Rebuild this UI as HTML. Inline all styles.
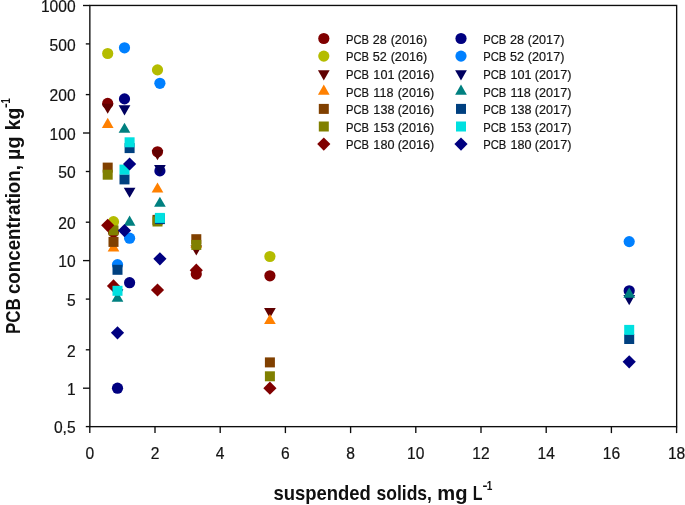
<!DOCTYPE html>
<html><head><meta charset="utf-8"><title>PCB concentration vs suspended solids</title>
<style>
html,body{margin:0;padding:0;background:#fff;}
svg{display:block;font-family:"Liberation Sans",sans-serif;}
.tk{font-size:15.6px;fill:#141414;stroke:#141414;stroke-width:0.2px;}
.lg{fill:#141414;stroke:#141414;stroke-width:0.2px;}
.ti{font-weight:bold;fill:#101010;}
</style></head><body>
<svg width="685" height="505" viewBox="0 0 685 505">
<rect width="685" height="505" fill="#fff"/>
<g stroke="#0d0d0d" stroke-width="1.35" fill="none">
<rect x="89.85" y="5.45" width="586.8" height="421.2"/>
<line x1="83.0" y1="5.5" x2="89.85" y2="5.5"/>
<line x1="85.8" y1="43.9" x2="89.85" y2="43.9"/>
<line x1="85.8" y1="94.6" x2="89.85" y2="94.6"/>
<line x1="83.0" y1="133.0" x2="89.85" y2="133.0"/>
<line x1="85.8" y1="171.5" x2="89.85" y2="171.5"/>
<line x1="85.8" y1="222.2" x2="89.85" y2="222.2"/>
<line x1="83.0" y1="260.6" x2="89.85" y2="260.6"/>
<line x1="85.8" y1="299.1" x2="89.85" y2="299.1"/>
<line x1="85.8" y1="349.8" x2="89.85" y2="349.8"/>
<line x1="83.0" y1="388.2" x2="89.85" y2="388.2"/>
<line x1="85.8" y1="426.6" x2="89.85" y2="426.6"/>
<line x1="89.8" y1="426.65" x2="89.8" y2="433.1"/>
<line x1="155.0" y1="426.65" x2="155.0" y2="433.1"/>
<line x1="220.2" y1="426.65" x2="220.2" y2="433.1"/>
<line x1="285.4" y1="426.65" x2="285.4" y2="433.1"/>
<line x1="350.6" y1="426.65" x2="350.6" y2="433.1"/>
<line x1="415.8" y1="426.65" x2="415.8" y2="433.1"/>
<line x1="481.0" y1="426.65" x2="481.0" y2="433.1"/>
<line x1="546.2" y1="426.65" x2="546.2" y2="433.1"/>
<line x1="611.4" y1="426.65" x2="611.4" y2="433.1"/>
<line x1="676.6" y1="426.65" x2="676.6" y2="433.1"/>
</g>
<text class="tk" x="75.6" y="12.2" text-anchor="end">1000</text>
<text class="tk" x="75.6" y="50.6" text-anchor="end">500</text>
<text class="tk" x="75.6" y="101.3" text-anchor="end">200</text>
<text class="tk" x="75.6" y="139.7" text-anchor="end">100</text>
<text class="tk" x="75.6" y="178.2" text-anchor="end">50</text>
<text class="tk" x="75.6" y="228.9" text-anchor="end">20</text>
<text class="tk" x="75.6" y="267.3" text-anchor="end">10</text>
<text class="tk" x="75.6" y="305.8" text-anchor="end">5</text>
<text class="tk" x="75.6" y="356.5" text-anchor="end">2</text>
<text class="tk" x="75.6" y="394.9" text-anchor="end">1</text>
<text class="tk" x="75.6" y="433.3" text-anchor="end">0,5</text>
<text class="tk" x="89.8" y="458.6" text-anchor="middle">0</text>
<text class="tk" x="155.0" y="458.6" text-anchor="middle">2</text>
<text class="tk" x="220.2" y="458.6" text-anchor="middle">4</text>
<text class="tk" x="285.4" y="458.6" text-anchor="middle">6</text>
<text class="tk" x="350.6" y="458.6" text-anchor="middle">8</text>
<text class="tk" x="415.8" y="458.6" text-anchor="middle">10</text>
<text class="tk" x="481.0" y="458.6" text-anchor="middle">12</text>
<text class="tk" x="546.2" y="458.6" text-anchor="middle">14</text>
<text class="tk" x="611.4" y="458.6" text-anchor="middle">16</text>
<text class="tk" x="676.6" y="458.6" text-anchor="middle">18</text>
<g>
<circle cx="107.7" cy="103.4" r="5.6" fill="#800000"/>
<circle cx="113.5" cy="232.0" r="5.6" fill="#800000"/>
<circle cx="157.5" cy="151.8" r="5.6" fill="#800000"/>
<circle cx="196.3" cy="274.1" r="5.6" fill="#800000"/>
<circle cx="269.9" cy="275.8" r="5.6" fill="#800000"/>
</g>
<g>
<circle cx="107.7" cy="53.5" r="5.6" fill="#b4bc00"/>
<circle cx="113.5" cy="221.7" r="5.6" fill="#b4bc00"/>
<circle cx="157.5" cy="69.9" r="5.6" fill="#b4bc00"/>
<circle cx="269.9" cy="256.5" r="5.6" fill="#b4bc00"/>
</g>
<g>
<polygon points="101.85,103.72 113.55,103.72 107.70,113.85" fill="#600000"/>
<polygon points="151.65,150.02 163.35,150.02 157.50,160.15" fill="#600000"/>
<polygon points="190.45,245.42 202.15,245.42 196.30,255.55" fill="#600000"/>
<polygon points="264.05,308.02 275.75,308.02 269.90,318.15" fill="#600000"/>
</g>
<g>
<polygon points="101.85,127.88 113.55,127.88 107.70,117.75" fill="#ff8000"/>
<polygon points="107.65,251.48 119.35,251.48 113.50,241.35" fill="#ff8000"/>
<polygon points="151.65,192.58 163.35,192.58 157.50,182.45" fill="#ff8000"/>
<polygon points="190.45,247.78 202.15,247.78 196.30,237.65" fill="#ff8000"/>
<polygon points="264.05,324.08 275.75,324.08 269.90,313.95" fill="#ff8000"/>
</g>
<g>
<rect x="102.7" y="162.6" width="10.0" height="10.0" fill="#804000"/>
<rect x="108.5" y="236.9" width="10.0" height="10.0" fill="#804000"/>
<rect x="152.5" y="214.9" width="10.0" height="10.0" fill="#804000"/>
<rect x="191.3" y="234.2" width="10.0" height="10.0" fill="#804000"/>
<rect x="264.9" y="357.4" width="10.0" height="10.0" fill="#804000"/>
</g>
<g>
<rect x="102.7" y="169.7" width="10.0" height="10.0" fill="#808000"/>
<rect x="108.5" y="225.4" width="10.0" height="10.0" fill="#808000"/>
<rect x="152.5" y="216.5" width="10.0" height="10.0" fill="#808000"/>
<rect x="191.3" y="239.9" width="10.0" height="10.0" fill="#808000"/>
<rect x="264.9" y="371.3" width="10.0" height="10.0" fill="#808000"/>
</g>
<g>
<polygon points="101.10,225.30 107.70,218.70 114.30,225.30 107.70,231.90" fill="#800000"/>
<polygon points="106.90,285.90 113.50,279.30 120.10,285.90 113.50,292.50" fill="#800000"/>
<polygon points="150.90,290.00 157.50,283.40 164.10,290.00 157.50,296.60" fill="#800000"/>
<polygon points="189.70,270.20 196.30,263.60 202.90,270.20 196.30,276.80" fill="#800000"/>
<polygon points="263.30,388.20 269.90,381.60 276.50,388.20 269.90,394.80" fill="#800000"/>
</g>
<g>
<circle cx="117.5" cy="388.2" r="5.6" fill="#000080"/>
<circle cx="124.5" cy="98.9" r="5.6" fill="#000080"/>
<circle cx="129.6" cy="282.7" r="5.6" fill="#000080"/>
<circle cx="159.9" cy="170.9" r="5.6" fill="#000080"/>
<circle cx="629.2" cy="290.8" r="5.6" fill="#000080"/>
</g>
<g>
<circle cx="117.5" cy="264.6" r="5.6" fill="#0080ff"/>
<circle cx="124.5" cy="47.8" r="5.6" fill="#0080ff"/>
<circle cx="129.6" cy="238.2" r="5.6" fill="#0080ff"/>
<circle cx="159.9" cy="83.3" r="5.6" fill="#0080ff"/>
<circle cx="629.2" cy="241.6" r="5.6" fill="#0080ff"/>
</g>
<g>
<polygon points="111.65,289.32 123.35,289.32 117.50,299.45" fill="#000060"/>
<polygon points="118.65,105.32 130.35,105.32 124.50,115.45" fill="#000060"/>
<polygon points="123.75,187.72 135.45,187.72 129.60,197.85" fill="#000060"/>
<polygon points="154.05,165.12 165.75,165.12 159.90,175.25" fill="#000060"/>
<polygon points="623.35,295.12 635.05,295.12 629.20,305.25" fill="#000060"/>
</g>
<g>
<polygon points="111.65,301.68 123.35,301.68 117.50,291.55" fill="#008080"/>
<polygon points="118.65,132.78 130.35,132.78 124.50,122.65" fill="#008080"/>
<polygon points="123.75,225.68 135.45,225.68 129.60,215.55" fill="#008080"/>
<polygon points="154.05,206.78 165.75,206.78 159.90,196.65" fill="#008080"/>
<polygon points="623.35,297.68 635.05,297.68 629.20,287.55" fill="#008080"/>
</g>
<g>
<rect x="112.5" y="264.8" width="10.0" height="10.0" fill="#004080"/>
<rect x="119.5" y="174.4" width="10.0" height="10.0" fill="#004080"/>
<rect x="124.6" y="143.1" width="10.0" height="10.0" fill="#004080"/>
<rect x="154.9" y="214.1" width="10.0" height="10.0" fill="#004080"/>
<rect x="624.2" y="334.0" width="10.0" height="10.0" fill="#004080"/>
</g>
<g>
<rect x="112.5" y="285.8" width="10.0" height="10.0" fill="#00e0e0"/>
<rect x="119.5" y="164.6" width="10.0" height="10.0" fill="#00e0e0"/>
<rect x="124.6" y="137.3" width="10.0" height="10.0" fill="#00e0e0"/>
<rect x="154.9" y="212.9" width="10.0" height="10.0" fill="#00e0e0"/>
<rect x="624.2" y="324.9" width="10.0" height="10.0" fill="#00e0e0"/>
</g>
<g>
<polygon points="110.90,332.80 117.50,326.20 124.10,332.80 117.50,339.40" fill="#000080"/>
<polygon points="117.90,230.60 124.50,224.00 131.10,230.60 124.50,237.20" fill="#000080"/>
<polygon points="123.00,164.00 129.60,157.40 136.20,164.00 129.60,170.60" fill="#000080"/>
<polygon points="153.30,258.80 159.90,252.20 166.50,258.80 159.90,265.40" fill="#000080"/>
<polygon points="622.60,361.80 629.20,355.20 635.80,361.80 629.20,368.40" fill="#000080"/>
</g>
<circle cx="323.8" cy="38.5" r="5.6" fill="#800000"/>
<text class="lg" font-size="13.4" transform="translate(346.90,43.70) scale(0.8374,1)" x="-1.07" y="0">PCB</text>
<text class="lg" font-size="13.4" transform="translate(391.40,43.70) scale(0.9429,1)" x="-0.80" y="0">(2016)</text>
<text class="lg" font-size="13.4" transform="translate(373.30,43.70) scale(0.9429,1)" x="-0.67" y="0">28</text>
<circle cx="323.8" cy="56.1" r="5.6" fill="#b4bc00"/>
<text class="lg" font-size="13.4" transform="translate(346.90,61.30) scale(0.8374,1)" x="-1.07" y="0">PCB</text>
<text class="lg" font-size="13.4" transform="translate(391.40,61.30) scale(0.9429,1)" x="-0.80" y="0">(2016)</text>
<text class="lg" font-size="13.4" transform="translate(373.30,61.30) scale(0.9429,1)" x="-0.54" y="0">52</text>
<polygon points="317.95,70.32 329.65,70.32 323.80,80.45" fill="#600000"/>
<text class="lg" font-size="13.4" transform="translate(346.90,78.90) scale(0.8374,1)" x="-1.07" y="0">PCB</text>
<text class="lg" font-size="13.4" transform="translate(398.40,78.90) scale(0.9429,1)" x="-0.80" y="0">(2016)</text>
<text class="lg" font-size="13.4" transform="translate(374.30,78.90) scale(0.9429,1)" x="-1.00" y="0">101</text>
<polygon points="317.95,94.68 329.65,94.68 323.80,84.55" fill="#ff8000"/>
<text class="lg" font-size="13.4" transform="translate(346.90,96.50) scale(0.8374,1)" x="-1.07" y="0">PCB</text>
<text class="lg" font-size="13.4" transform="translate(398.40,96.50) scale(0.9429,1)" x="-0.80" y="0">(2016)</text>
<text class="lg" font-size="13.4" transform="translate(374.30,96.50) scale(0.9429,1)" x="-1.00" y="0">118</text>
<rect x="318.8" y="103.9" width="10.0" height="10.0" fill="#804000"/>
<text class="lg" font-size="13.4" transform="translate(346.90,114.10) scale(0.8374,1)" x="-1.07" y="0">PCB</text>
<text class="lg" font-size="13.4" transform="translate(398.40,114.10) scale(0.9429,1)" x="-0.80" y="0">(2016)</text>
<text class="lg" font-size="13.4" transform="translate(374.30,114.10) scale(0.9429,1)" x="-1.00" y="0">138</text>
<rect x="318.8" y="121.5" width="10.0" height="10.0" fill="#808000"/>
<text class="lg" font-size="13.4" transform="translate(346.90,131.70) scale(0.8374,1)" x="-1.07" y="0">PCB</text>
<text class="lg" font-size="13.4" transform="translate(398.40,131.70) scale(0.9429,1)" x="-0.80" y="0">(2016)</text>
<text class="lg" font-size="13.4" transform="translate(374.30,131.70) scale(0.9429,1)" x="-1.00" y="0">153</text>
<polygon points="317.20,144.10 323.80,137.50 330.40,144.10 323.80,150.70" fill="#800000"/>
<text class="lg" font-size="13.4" transform="translate(346.90,149.30) scale(0.8374,1)" x="-1.07" y="0">PCB</text>
<text class="lg" font-size="13.4" transform="translate(398.40,149.30) scale(0.9429,1)" x="-0.80" y="0">(2016)</text>
<text class="lg" font-size="13.4" transform="translate(374.30,149.30) scale(0.9429,1)" x="-1.00" y="0">180</text>
<circle cx="461.0" cy="38.5" r="5.6" fill="#000080"/>
<text class="lg" font-size="13.4" transform="translate(484.10,43.70) scale(0.8374,1)" x="-1.07" y="0">PCB</text>
<text class="lg" font-size="13.4" transform="translate(528.60,43.70) scale(0.9429,1)" x="-0.80" y="0">(2017)</text>
<text class="lg" font-size="13.4" transform="translate(510.50,43.70) scale(0.9429,1)" x="-0.67" y="0">28</text>
<circle cx="461.0" cy="56.1" r="5.6" fill="#0080ff"/>
<text class="lg" font-size="13.4" transform="translate(484.10,61.30) scale(0.8374,1)" x="-1.07" y="0">PCB</text>
<text class="lg" font-size="13.4" transform="translate(528.60,61.30) scale(0.9429,1)" x="-0.80" y="0">(2017)</text>
<text class="lg" font-size="13.4" transform="translate(510.50,61.30) scale(0.9429,1)" x="-0.54" y="0">52</text>
<polygon points="455.15,70.32 466.85,70.32 461.00,80.45" fill="#000060"/>
<text class="lg" font-size="13.4" transform="translate(484.10,78.90) scale(0.8374,1)" x="-1.07" y="0">PCB</text>
<text class="lg" font-size="13.4" transform="translate(535.60,78.90) scale(0.9429,1)" x="-0.80" y="0">(2017)</text>
<text class="lg" font-size="13.4" transform="translate(511.50,78.90) scale(0.9429,1)" x="-1.00" y="0">101</text>
<polygon points="455.15,94.68 466.85,94.68 461.00,84.55" fill="#008080"/>
<text class="lg" font-size="13.4" transform="translate(484.10,96.50) scale(0.8374,1)" x="-1.07" y="0">PCB</text>
<text class="lg" font-size="13.4" transform="translate(535.60,96.50) scale(0.9429,1)" x="-0.80" y="0">(2017)</text>
<text class="lg" font-size="13.4" transform="translate(511.50,96.50) scale(0.9429,1)" x="-1.00" y="0">118</text>
<rect x="456.0" y="103.9" width="10.0" height="10.0" fill="#004080"/>
<text class="lg" font-size="13.4" transform="translate(484.10,114.10) scale(0.8374,1)" x="-1.07" y="0">PCB</text>
<text class="lg" font-size="13.4" transform="translate(535.60,114.10) scale(0.9429,1)" x="-0.80" y="0">(2017)</text>
<text class="lg" font-size="13.4" transform="translate(511.50,114.10) scale(0.9429,1)" x="-1.00" y="0">138</text>
<rect x="456.0" y="121.5" width="10.0" height="10.0" fill="#00e0e0"/>
<text class="lg" font-size="13.4" transform="translate(484.10,131.70) scale(0.8374,1)" x="-1.07" y="0">PCB</text>
<text class="lg" font-size="13.4" transform="translate(535.60,131.70) scale(0.9429,1)" x="-0.80" y="0">(2017)</text>
<text class="lg" font-size="13.4" transform="translate(511.50,131.70) scale(0.9429,1)" x="-1.00" y="0">153</text>
<polygon points="454.40,144.10 461.00,137.50 467.60,144.10 461.00,150.70" fill="#000080"/>
<text class="lg" font-size="13.4" transform="translate(484.10,149.30) scale(0.8374,1)" x="-1.07" y="0">PCB</text>
<text class="lg" font-size="13.4" transform="translate(535.60,149.30) scale(0.9429,1)" x="-0.80" y="0">(2017)</text>
<text class="lg" font-size="13.4" transform="translate(511.50,149.30) scale(0.9429,1)" x="-1.00" y="0">180</text>
<text class="ti" font-size="20" transform="translate(274.10,499.50) scale(0.9227,1)" x="-0.70" y="0">suspended</text>
<text class="ti" font-size="20" transform="translate(377.10,499.50) scale(0.8760,1)" x="-0.70" y="0">solids,</text>
<text class="ti" font-size="20" transform="translate(438.60,499.50) scale(1.0073,1)" x="-1.30" y="0">mg</text>
<text class="ti" font-size="20" transform="translate(473.80,499.50) scale(0.7961,1)" x="-1.30" y="0">L</text>
<text class="ti" font-size="13.4" transform="translate(483.10,489.90) scale(1.1121,1)" x="-0.54" y="0">-</text>
<text class="ti" font-size="13.4" transform="translate(487.30,489.90) scale(0.7543,1)" x="-0.87" y="0">1</text>
<text class="ti" font-size="20" transform="translate(20.10,332.90) rotate(-90) scale(0.8475,1)" x="-1.30" y="0">PCB</text>
<text class="ti" font-size="20" transform="translate(20.10,293.30) rotate(-90) scale(0.9366,1)" x="-0.80" y="0">concentration,</text>
<text class="ti" font-size="20" transform="translate(20.10,158.70) rotate(-90) scale(0.9858,1)" x="-1.30" y="0">µg</text>
<text class="ti" font-size="20" transform="translate(20.10,128.80) rotate(-90) scale(0.9612,1)" x="-1.40" y="0">kg</text>
<text class="ti" font-size="13.4" transform="translate(10.20,107.50) rotate(-90) scale(1.0536,1)" x="-0.54" y="0">-</text>
<text class="ti" font-size="13.4" transform="translate(10.20,103.00) rotate(-90) scale(0.7061,1)" x="-0.87" y="0">1</text>
</svg></body></html>
